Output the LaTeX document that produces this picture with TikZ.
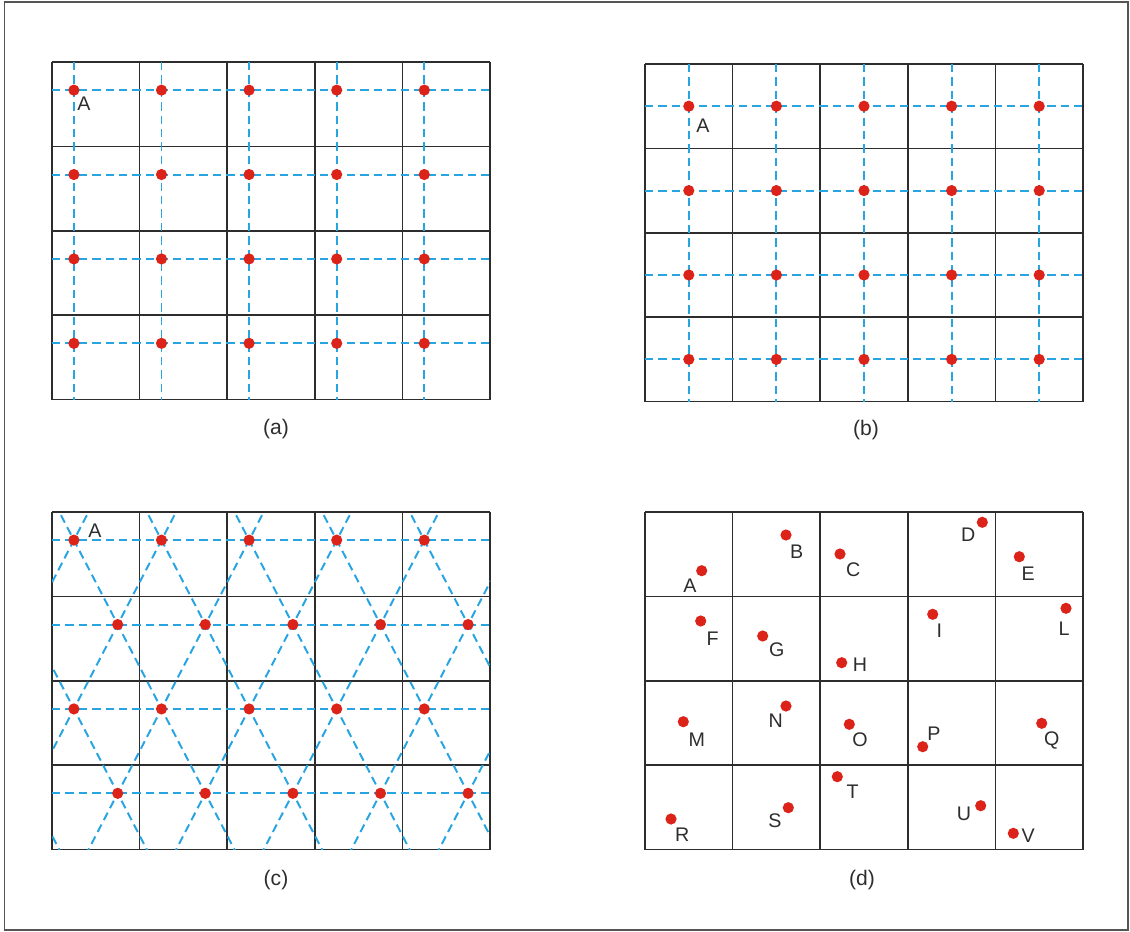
\documentclass[tikz,border=0pt]{standalone}
\usepackage{fontspec}
\setmainfont{Liberation Sans}
\definecolor{gridblack}{RGB}{45,45,45}
\definecolor{dashblue}{RGB}{40,165,225}
\definecolor{dotred}{RGB}{220,35,25}
\definecolor{labelgray}{RGB}{45,45,45}
\definecolor{framegray}{RGB}{85,85,85}
\newcommand\cellw{87.6}
\newcommand\cellh{84.4}

\begin{document}
\begin{tikzpicture}[x=0.025cm, y=-0.025cm,
        cellgrid/.style={draw=gridblack, line width=1.2pt},
        guide/.style={draw=dashblue, line width=1.4pt, dash pattern=on 0.21cm off 0.125cm},
        sample/.style={circle, fill=dotred, inner sep=0pt, minimum size=0.28cm},
        letter/.style={inner sep=0pt, text=labelgray, font=\fontsize{14}{16}\selectfont},
        caption/.style={inner sep=0pt, text=labelgray, font=\fontsize{15}{17}\selectfont}]
    \useasboundingbox (0,0) rectangle (1130,932);
    \draw[framegray, line width=1.4pt] (4.5,2) rectangle (1127.5,930);
    % cell grids
    \foreach \px/\py in {52/62, 645/64, 52/512, 645/512} {
        \foreach \i in {0,...,5}
            \draw[cellgrid] ({\px+\i*\cellw},\py) -- ++(0,{4*\cellh});
        \foreach \j in {0,...,4}
            \draw[cellgrid] (\px,{\py+\j*\cellh}) -- ++({5*\cellw},0);
    }
    % (a)
    \foreach \i in {0,...,4}
        \draw[guide] ({52+\cellw/4+\i*\cellw},62) -- ++(0,{4*\cellh});
    \foreach \j in {0,...,3}
        \draw[guide] (52,{62+\cellh/3+\j*\cellh}) -- ++({5*\cellw},0);
    \foreach \i in {0,...,4}
        \foreach \j in {0,...,3}
            \node[sample] (a-\i-\j) at ({52+\cellw/4+\i*\cellw},{62+\cellh/3+\j*\cellh}) {};
    \node[letter] (a-A) at (84,104) {A};
    \node[caption] (cap-a) at (276,429) {(a)};
    % (b)
    \foreach \i in {0,...,4}
        \draw[guide] ({645+\cellw/2+\i*\cellw},64) -- ++(0,{4*\cellh});
    \foreach \j in {0,...,3}
        \draw[guide] (645,{64+\cellh/2+\j*\cellh}) -- ++({5*\cellw},0);
    \foreach \i in {0,...,4}
        \foreach \j in {0,...,3}
            \node[sample] (b-\i-\j) at ({645+\cellw/2+\i*\cellw},{64+\cellh/2+\j*\cellh}) {};
    \node[letter] (b-A) at (703,126) {A};
    \node[caption] (cap-b) at (866,430) {(b)};
    % (c)
    \begin{scope}
        \clip (52,512) rectangle ++({5*\cellw},{4*\cellh});
        \foreach \i in {-3,...,7} {
            \draw[guide] ({52+\cellw/4+\i*\cellw-\cellw/2},{512+\cellh/3-\cellh}) -- ++({2.5*\cellw},{5*\cellh});
            \draw[guide] ({52+\cellw/4+\i*\cellw+\cellw/2},{512+\cellh/3-\cellh}) -- ++({-2.5*\cellw},{5*\cellh});
        }
        \foreach \j in {0,...,3}
            \draw[guide] (52,{512+\cellh/3+\j*\cellh}) -- ++({5*\cellw},0);
    \end{scope}
    \foreach \i in {0,...,4}
        \foreach \j in {0,...,3}
            \node[sample] (c-\i-\j) at ({52+\cellw/4+\i*\cellw+mod(\j,2)*\cellw/2},{512+\cellh/3+\j*\cellh}) {};
    \node[letter] (c-A) at (95,531) {A};
    \node[caption] (cap-c) at (276,880) {(c)};
    % (d)
    \foreach \name/\dx/\dy/\lx/\ly in {A/701.7/570.7/690/586, B/786/535/796.7/551.7,
            C/840/554/853.3/569.3, D/982.3/522.3/968.3/535, E/1019.3/556.7/1028.3/574,
            F/700.7/621/712.7/638.3, G/762.7/636/776.7/649.3, H/841.7/662.7/860/665,
            I/932.7/614.3/939.3/630.7, L/1066/608.3/1064/628.3, M/683.3/721.7/696.7/739.3,
            N/786/706/775.7/720.7, O/849.3/724.3/860/739.3, P/922.7/746.7/934/733.3,
            Q/1041.7/723.3/1051.7/740, R/671/819/682.3/834.3, S/788.3/807.7/775/820.7,
            T/837.3/776.7/852.7/791.7, U/980.7/805.7/964/814.3, V/1013.3/833.3/1028.3/835.7} {
        \node[sample] (d-\name) at (\dx,\dy) {};
        \node[letter] (d-\name-text) at (\lx,\ly) {\name};
    }
    \node[caption] (cap-d) at (862,880) {(d)};
\end{tikzpicture}
\end{document}
